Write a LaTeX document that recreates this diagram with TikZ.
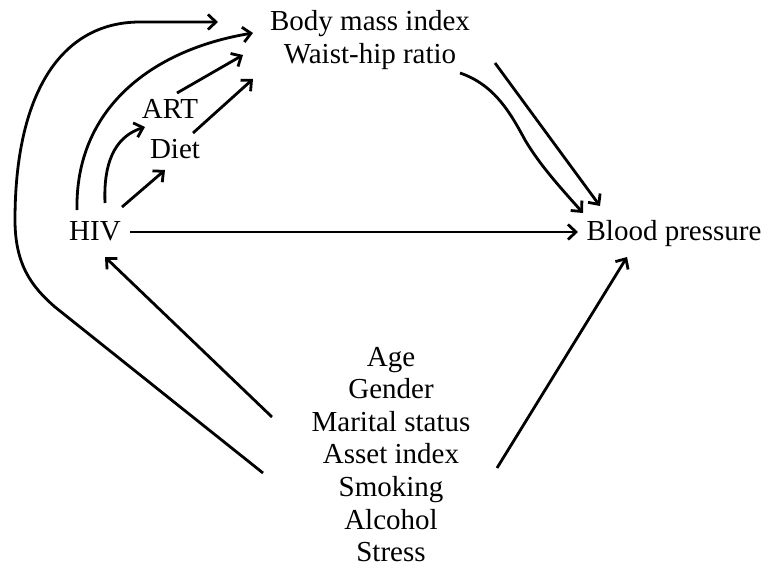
\documentclass[tikz,border=0pt]{standalone}
\usepackage{fontspec}
\setmainfont{Liberation Serif}
\usetikzlibrary{arrows.meta}
\begin{document}
\begin{tikzpicture}[x=1pt,y=-1pt,
  lbl/.style={anchor=base,inner sep=0pt,font=\fontsize{29}{32}\selectfont},
  arr/.style={line width=2.8pt,-{Straight Barb[length=8pt,width=15pt]}},
  ln/.style={line width=2.8pt}]
\useasboundingbox (0,0) rectangle (768,570);
% labels
\node[lbl] (bmi) at (370,30) {Body mass index};
\node[lbl] (whr) at (370,63) {Waist-hip ratio};
\node[lbl] (art) at (170,118) {ART};
\node[lbl] (diet) at (175,158) {Diet};
\node[lbl] (hiv) at (95,240) {HIV};
\node[lbl] (bp) at (674,240) {Blood pressure};
\foreach \t [count=\i from 0] in {Age,Gender,Marital status,Asset index,Smoking,Alcohol,Stress}
  \node[lbl] (c\i) at (391,366+32.6*\i) {\t};
% connector end points
\coordinate (o1) at (263,473);
\coordinate (o2) at (55,307);
\coordinate (o3) at (15,220);
\coordinate (o4) at (140,22);
\coordinate (o5) at (218,22);
\coordinate (h1) at (77,210);
\coordinate (b1) at (253,33);
\coordinate (h2) at (105,203);
\coordinate (a1) at (145,127);
\coordinate (h3) at (122,207);
\coordinate (d1) at (165,170);
\coordinate (a2) at (177,93);
\coordinate (b2) at (243,55);
\coordinate (d2) at (193,133);
\coordinate (b3) at (253,79);
\coordinate (w1) at (460,73);
\coordinate (p1) at (583,213);
\coordinate (w2) at (495,63);
\coordinate (p2) at (600,206);
\coordinate (h4) at (130,232);
\coordinate (p3) at (578,232);
\coordinate (k1) at (497,468);
\coordinate (p4) at (627,257);
\coordinate (k2) at (272,417);
\coordinate (h5) at (105,257);
% connectors
\draw[arr] (o1) -- (o2) .. controls (32,287) and (15,265) .. (o3)
  .. controls (15,95) and (60,22) .. (o4) -- (o5);
\draw[arr] (h1) .. controls (75,110) and (150,50) .. (b1);
\draw[arr] (h2) .. controls (103,155) and (120,135) .. (a1);
\draw[arr] (h3) -- (d1);
\draw[arr] (a2) -- (b2);
\draw[arr] (d2) -- (b3);
\draw[arr] (w1) .. controls (492,84) and (508,108) .. (525,140) .. controls (540,165) and (558,185) .. (p1);
\draw[arr] (w2) -- (p2);
\draw[arr] (h4) -- (p3);
\draw[arr] (k1) -- (p4);
\draw[arr] (k2) -- (h5);
\end{tikzpicture}
\end{document}
